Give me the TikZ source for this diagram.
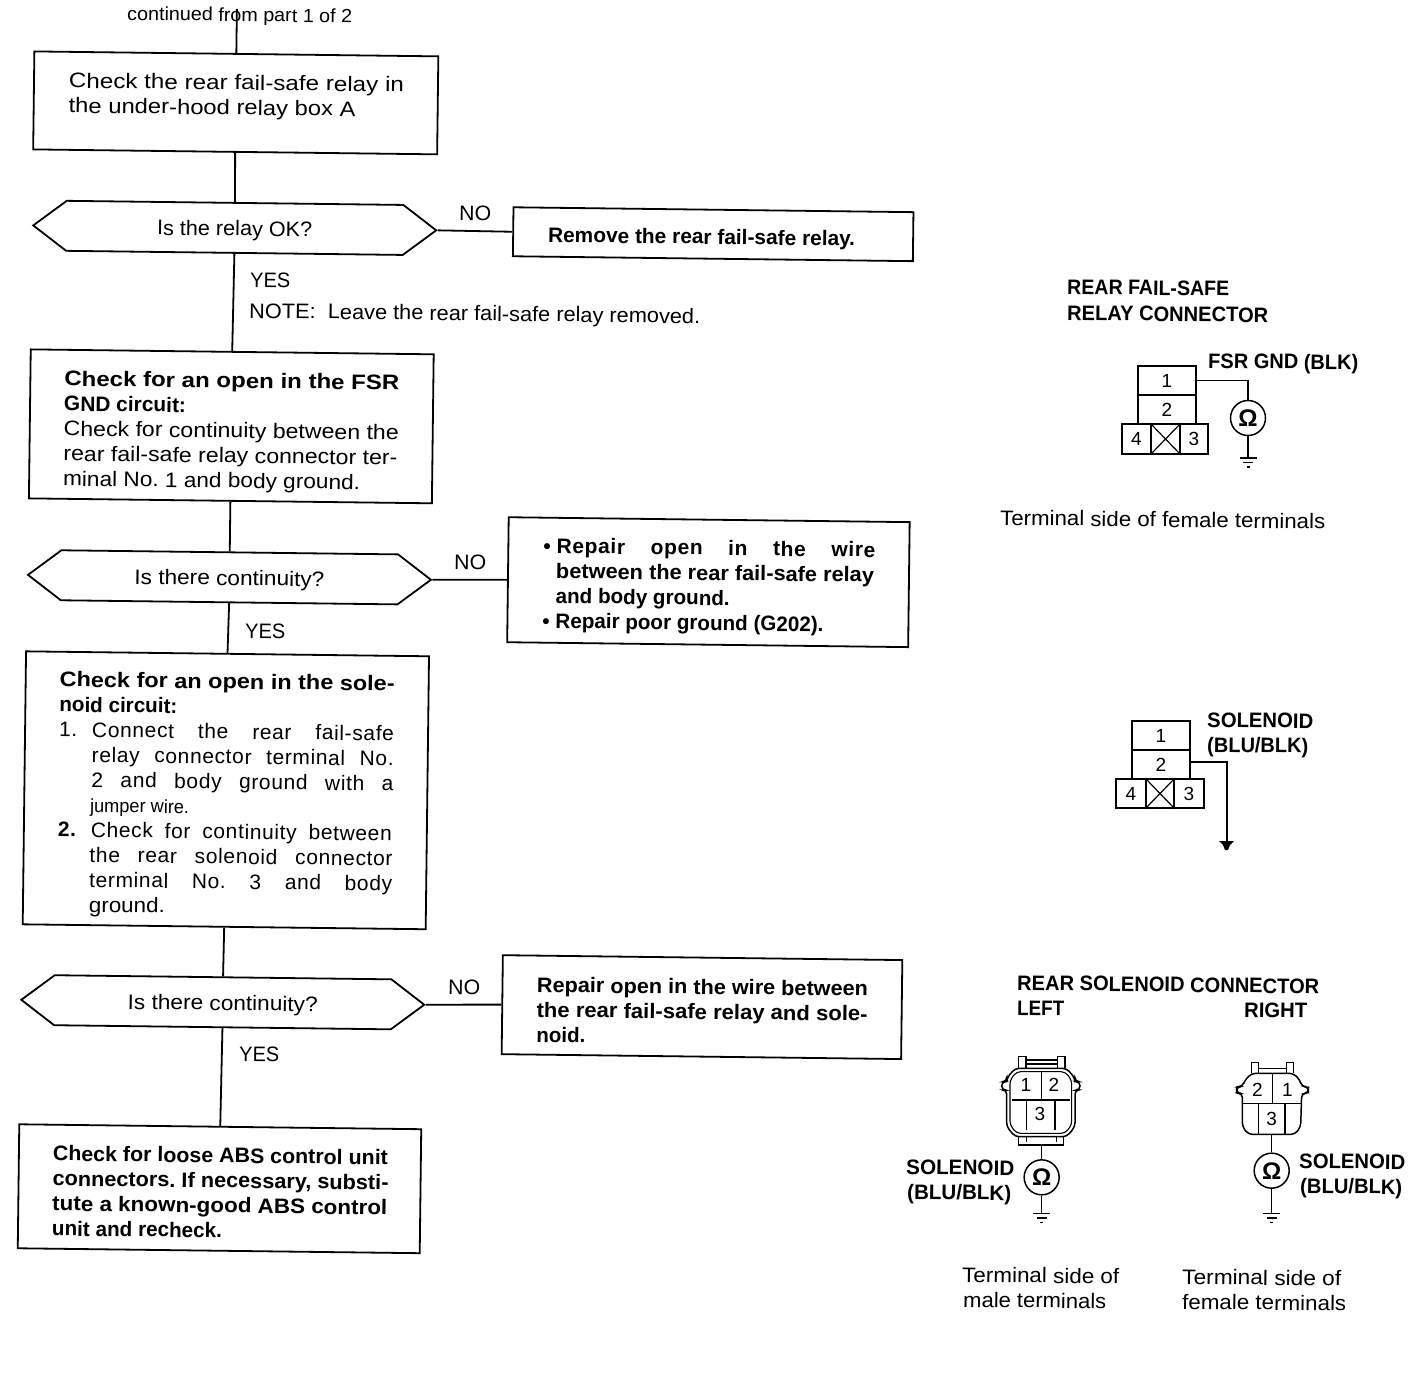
\documentclass[tikz,border=0pt]{standalone}
\usepackage{fontspec}
\usepackage{graphicx}
\setmainfont{Liberation Sans}
\usetikzlibrary{shapes.symbols,calc}
\AtBeginDocument{\frenchspacing}
\newcommand\Ln[3][0]{\hbox{\kern#1pt\raisebox{0pt}[25pt][0pt]{\resizebox{#2pt}{\height}{#3}}}}
\newcommand\Ls[3][0]{\hbox{\kern#1pt\raisebox{0pt}[25pt][0pt]{\makebox[#2pt][s]{\addfontfeature{LetterSpace=3}#3}}}}
\newcommand\Mid[2]{\raisebox{-8pt}[0pt][0pt]{\resizebox{#1pt}{\height}{#2}}}
\newcommand\Num[1]{\makebox[33pt][l]{#1}}
% name x1 y1 x2 y2 padx firstbaseline lines
\newcommand\flowbox[8]{%
  \node[fbox,minimum width={#4-#2},minimum height={#5-#3}] (#1) at ({(#2+#4)/2},{(#3+#5)/2}) {%
    \vbox to \dimexpr#5pt-#3pt\relax{\hsize=\dimexpr#4pt-#2pt\relax\offinterlineskip
      \hbox to \hsize{}%
      \vskip\dimexpr#7pt-25pt\relax
      \moveright#6pt\vbox{#8}\vss}};}
\newcommand\lab[5]{\node[lab] (#1) at (#2,#3) {\resizebox{#4pt}{\height}{#5}};}
\newcommand\gnd[1]{%
  \draw[wire] ($(#1)+(-8.5,0)$) -- ($(#1)+(8.5,0)$);
  \draw[wire] ($(#1)+(-5,4.5)$) -- ($(#1)+(5,4.5)$);
  \draw[wire] ($(#1)+(-1.5,9)$) -- ($(#1)+(1.5,9)$);}
\tikzset{
  x=1pt,y=-1pt,
  txt/.style={font=\fontsize{21}{25}\selectfont},
  fbox/.style={draw,line width=1.8pt,inner sep=0pt,txt},
  hexa/.style={draw,line width=1.8pt,inner sep=0pt,txt,signal,signal to=east and west,
    signal pointer angle=74,minimum width=403pt,minimum height=50pt},
  flow/.style={line width=1.8pt},
  lab/.style={anchor=base west,inner sep=0pt,rotate=-0.7,txt},
  wire/.style={line width=1.5pt},
  cell/.style={draw,line width=1.6pt,inner sep=0pt,font=\fontsize{19}{21}\selectfont},
  ohm/.style={draw,circle,line width=1.5pt,inner sep=0pt,minimum size=35pt,font=\fontsize{24}{26}\selectfont\bfseries,fill=white},
  num/.style={inner sep=0pt,font=\fontsize{19}{21}\selectfont},
}
\begin{document}
\begin{tikzpicture}
\useasboundingbox[fill=white] (0,0) rectangle (1424,1392);

\begin{scope}[rotate=-0.7,every node/.append style={transform shape}]
\coordinate (top) at (237,6);
\flowbox{b1}{35}{51}{439}{149}{35}{36}{%
  \Ln{335}{Check the rear fail-safe relay in}
  \Ln{287}{the under-hood relay box A}}
\node[hexa] (d1) at (237.5,225) {\Mid{155}{Is the relay OK?}};
\flowbox{rem}{516}{201}{916}{250}{35}{34.5}{%
  \Ln{307}{\bfseries Remove the rear fail-safe relay.}}
\flowbox{b3}{35}{349}{438}{498}{34}{36}{%
  \Ln{335}{\bfseries Check for an open in the FSR}
  \Ln{122}{\bfseries GND circuit:}
  \Ln{335}{Check for continuity between the}
  \Ln{334}{rear fail-safe relay connector ter-}
  \Ln{297}{minal No. 1 and body ground.}}
\node[hexa] (d2) at (236.5,574.5) {\Mid{190}{Is there continuity?}};
\flowbox{rep}{515}{511}{916}{636}{35}{35.5}{%
  \Ls{332}{\bfseries •\kern 6pt Repair open in the wire}
  \Ln[13]{318}{\bfseries between the rear fail-safe relay}
  \Ln[13]{174}{\bfseries and body ground.}
  \Ln{281}{\bfseries •\kern 6pt Repair poor ground (G202).}}
\flowbox{b4}{34}{651}{437}{924}{34}{35}{%
  \Ln{335}{\bfseries Check for an open in the sole-}
  \Ln{118}{\bfseries noid circuit:}
  \Ls{335}{\Num{1.}Connect the rear fail-safe}
  \Ls[33]{302}{relay connector terminal No.}
  \Ls[33]{302}{2 and body ground with a}
  \Ln[32]{99}{\fontsize{19}{25}\selectfont jumper wire.}
  \Ls{334}{\Num{\bfseries 2.}Check for continuity between}
  \Ls[32]{303}{the rear solenoid connector}
  \Ls[32]{303}{terminal No. 3 and body}
  \Ln[32]{76}{ground.}}
\node[hexa] (d3) at (235,999.5) {\Mid{190}{Is there continuity?}};
\flowbox{rop}{514.5}{949}{914}{1048}{34.5}{36.5}{%
  \Ln{331}{\bfseries Repair open in the wire between}
  \Ln{331}{\bfseries the rear fail-safe relay and sole-}
  \Ln{49}{\bfseries noid.}}
\flowbox{b5}{33}{1124}{435}{1248}{34}{36}{%
  \Ln{335}{\bfseries Check for loose ABS control unit}
  \Ln{336}{\bfseries connectors. If necessary, substi-}
  \Ln{335}{\bfseries tute a known-good ABS control}
  \Ln{170}{\bfseries unit and recheck.}}
\draw[flow] (top) -- (b1.north);
\draw[flow] (b1.south) -- (d1.north);
\draw[flow] (d1.east) -- (rem.west);
\draw[flow] (d1.south) -- (b3.north);
\draw[flow] (b3.south) -- (d2.north);
\draw[flow] (d2.east) -- (rep.west);
\draw[flow] (d2.south) -- (b4.north);
\draw[flow] (b4.south) -- (d3.north);
\draw[flow] (d3.east) -- (rop.west);
\draw[flow] (d3.south) -- (b5.north);
\end{scope}

% labels in picture coordinates
\lab{cont}{127}{20}{225}{\fontsize{19}{22}\selectfont continued from part 1 of 2}
\lab{no1}{459}{220}{32}{NO}
\lab{yes1}{250}{287}{40}{YES}
\lab{note}{249}{318}{451}{NOTE:\hspace{6pt} Leave the rear fail-safe relay removed.}
\lab{no2}{454}{569}{32}{NO}
\lab{yes2}{245}{638}{40}{YES}
\lab{no3}{448}{994}{32}{NO}
\lab{yes3}{239}{1061}{40}{YES}

\lab{ra}{1067}{294}{162}{\bfseries REAR FAIL-SAFE}
\lab{rb}{1067}{320}{201}{\bfseries RELAY CONNECTOR}
\lab{fg}{1208}{368}{150}{\bfseries FSR GND (BLK)}
\lab{tf}{1000}{525}{325}{Terminal side of female terminals}
\lab{sa}{1207}{727}{106}{\bfseries SOLENOID}
\lab{sb}{1207}{752}{101}{\bfseries (BLU/BLK)}
\lab{rs}{1017}{990}{302}{\bfseries REAR SOLENOID CONNECTOR}
\lab{le}{1017}{1015}{47}{\bfseries LEFT}
\lab{ri}{1244}{1017}{63}{\bfseries RIGHT}
\lab{la}{906}{1174}{108}{\bfseries SOLENOID}
\lab{lb}{907}{1199}{104}{\bfseries (BLU/BLK)}
\lab{rsa}{1299}{1168}{106}{\bfseries SOLENOID}
\lab{rsb}{1300}{1193}{102}{\bfseries (BLU/BLK)}
\lab{tm1}{962}{1282}{157}{Terminal side of}
\lab{tm2}{963}{1307}{143}{male terminals}
\lab{tr1}{1182}{1284}{159}{Terminal side of}
\lab{tr2}{1182}{1309}{164}{female terminals}

% relay connector, FSR GND
\node[cell,minimum width=58pt,minimum height=29pt] (a1) at (1167,380.5) {1};
\node[cell,minimum width=58pt,minimum height=29pt] (a2) at (1167,409.5) {2};
\node[cell,minimum width=29pt,minimum height=30pt] (a4) at (1136.5,439) {4};
\node[cell,minimum width=29pt,minimum height=30pt] (ax) at (1165.5,439) {};
\node[cell,minimum width=28pt,minimum height=30pt] (a3) at (1194,439) {3};
\draw[line width=1.2pt] (ax.north west) -- (ax.south east) (ax.north east) -- (ax.south west);
\node[ohm] (oa) at (1248,418) {Ω};
\coordinate (ga) at (1248,458);
\draw[wire] (a1.east) -| (oa.north);
\draw[wire] (oa.south) -- (ga);
\gnd{ga}

% relay connector, solenoid
\node[cell,minimum width=58pt,minimum height=29pt] (b1c) at (1161,735.5) {1};
\node[cell,minimum width=58pt,minimum height=29pt] (b2c) at (1161,764.5) {2};
\node[cell,minimum width=30pt,minimum height=29pt] (b4c) at (1131,793.5) {4};
\node[cell,minimum width=28pt,minimum height=29pt] (bxc) at (1160,793.5) {};
\node[cell,minimum width=30pt,minimum height=29pt] (b3c) at (1189,793.5) {3};
\draw[line width=1.2pt] (bxc.north west) -- (bxc.south east) (bxc.north east) -- (bxc.south west);
\coordinate (gb) at (1226.5,842);
\draw[line width=2pt] ([yshift=3pt]b2c.east) -| (gb);
\fill (1219,841) -- (1234,841) -- (1230,845) -- (1228,850) -- (1225,850) -- (1223,845) -- cycle;

% left solenoid connector
\begin{scope}[shift={(900,1040)},scale=1/3]
\draw[wire,rounded corners=4pt] (345,85) -- (500,85) -- (525,115) -- (525,125) -- (540,125) -- (540,150) -- (525,150) -- (525,260) -- (500,290) -- (345,290) -- (320,260) -- (320,150) -- (305,150) -- (305,125) -- (320,125) -- (320,115) -- cycle;
\draw[line width=1.1pt,rounded corners=4pt] (350,95) -- (495,95) -- (515,120) -- (515,255) -- (495,280) -- (350,280) -- (330,255) -- (330,120) -- cycle;
\draw[wire] (355,85) -- (355,50) -- (378,50) -- (378,85) (472,85) -- (472,50) -- (495,50) -- (495,85) (378,60) -- (472,60) (378,72) -- (472,72);
\draw[wire] (355,290) -- (355,315) -- (490,315) -- (490,290) (380,290) -- (380,305) (470,290) -- (470,305);
\draw[wire] (425,95) -- (425,180) (335,180) -- (510,180) (380,180) -- (380,270) (465,180) -- (465,270);
\node[num] (ln1) at (378,135) {1};
\node[num] (ln2) at (462,135) {2};
\node[num] (ln3) at (420,222) {3};
\coordinate (lc) at (425,315);
\node[ohm] (ol) at (425,412) {Ω};
\coordinate (gl) at (425,520);
\draw[wire] (lc) -- (ol.north);
\draw[wire] (ol.south) -- (gl);
\end{scope}
\gnd{gl}

% right solenoid connector
\begin{scope}[shift={(1210,1040)},scale=1/3]
\draw[wire,rounded corners=4pt] (125,100) -- (250,100) -- (270,120) -- (275,140) -- (295,140) -- (295,160) -- (275,160) -- (272,260) -- (255,283) -- (115,283) -- (97,260) -- (97,160) -- (80,160) -- (80,140) -- (97,140) -- (105,120) -- cycle;
\draw[wire] (125,100) -- (125,68) -- (145,68) -- (145,100) (230,100) -- (230,68) -- (250,68) -- (250,100) (145,85) -- (230,85);
\draw[wire] (187,100) -- (187,190) (97,190) -- (272,190) (145,190) -- (145,283) (225,190) -- (225,283);
\node[num] (rn2) at (142,150) {2};
\node[num] (rn1) at (232,150) {1};
\node[num] (rn3) at (185,237) {3};
\coordinate (rc) at (185,283);
\node[ohm] (or) at (185,392) {Ω};
\coordinate (gr) at (185,520);
\draw[wire] (rc) -- (or.north);
\draw[wire] (or.south) -- (gr);
\end{scope}
\gnd{gr}
\end{tikzpicture}
\end{document}
